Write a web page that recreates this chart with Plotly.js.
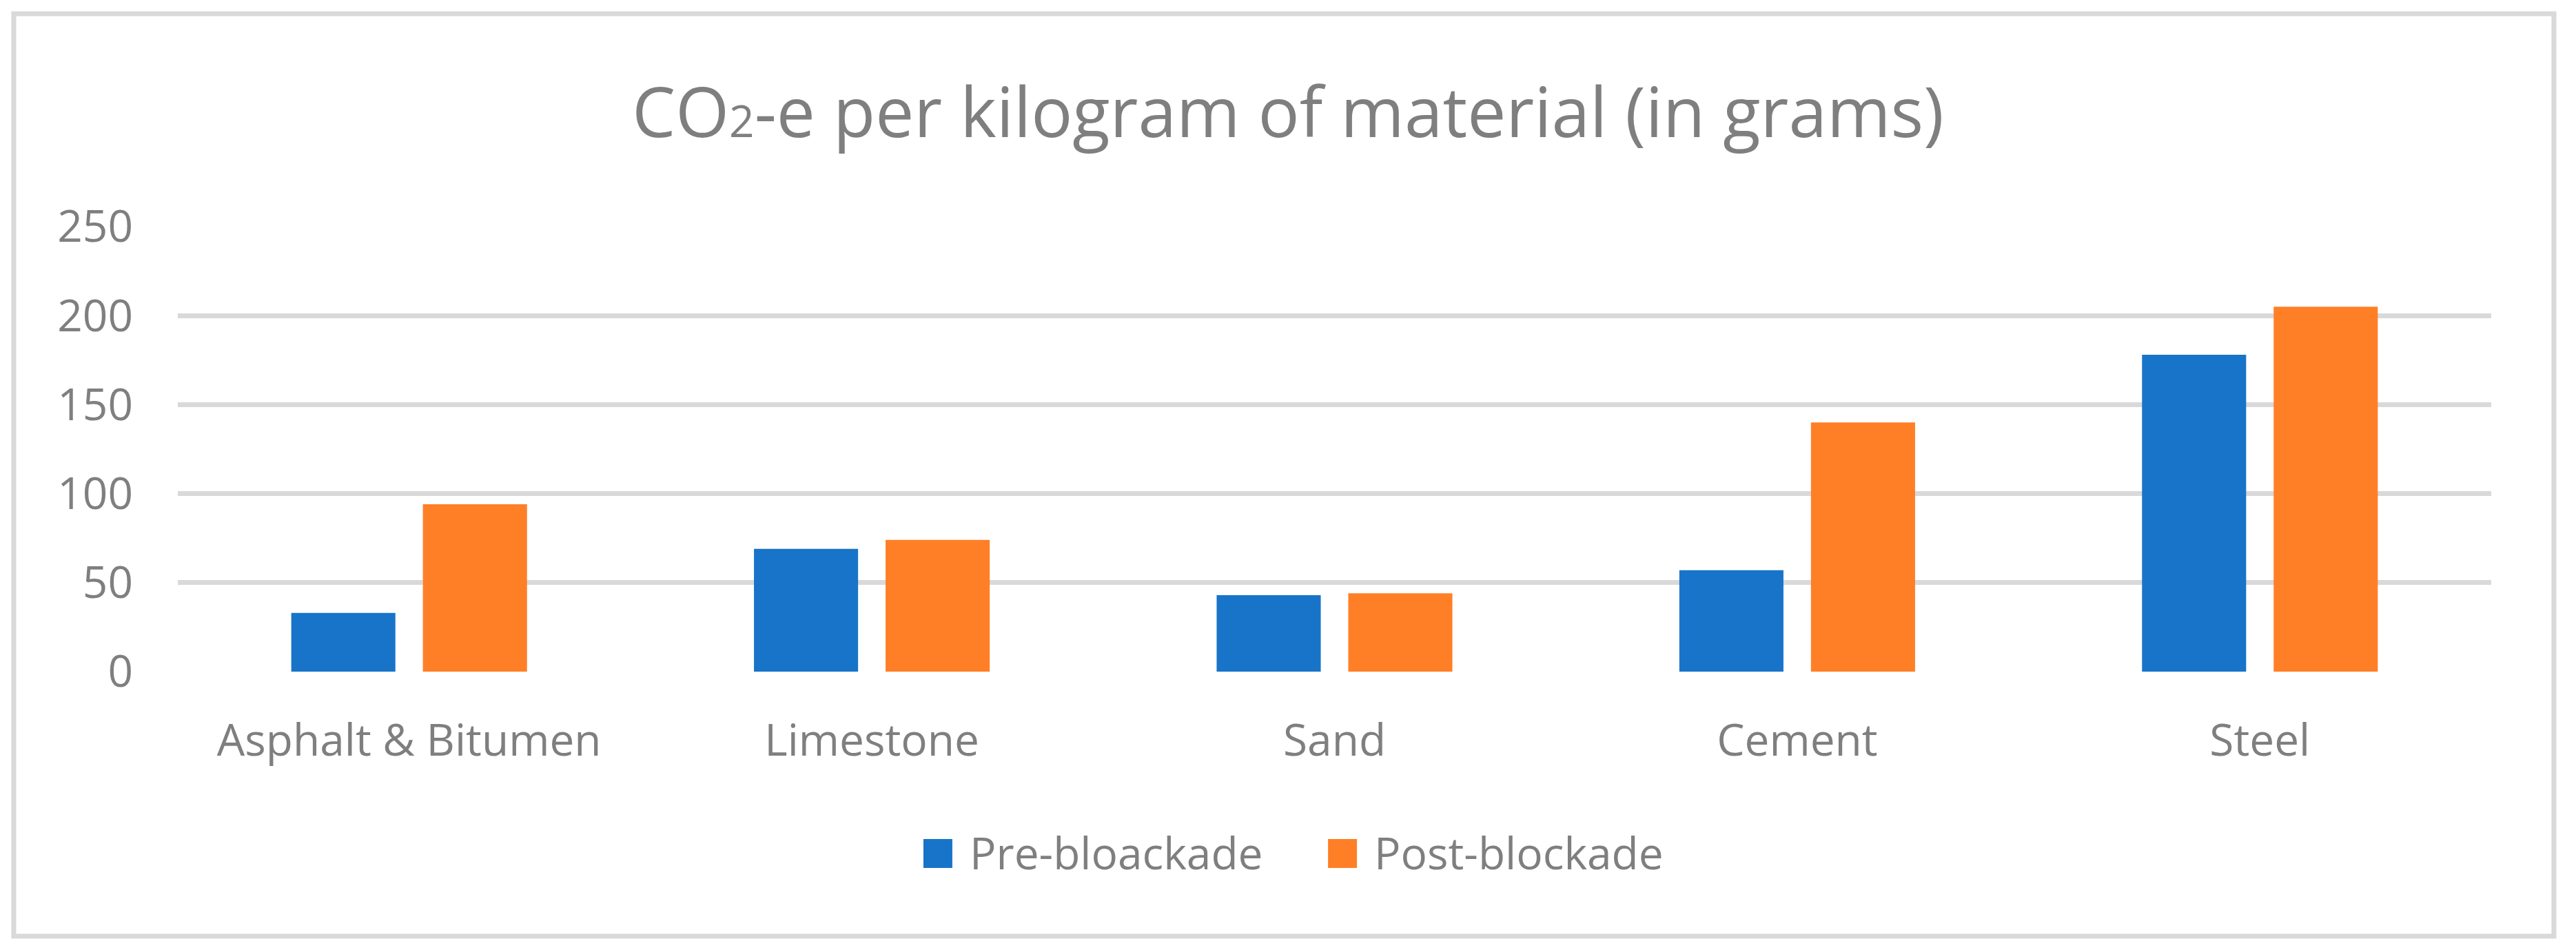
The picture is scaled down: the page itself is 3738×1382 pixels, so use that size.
<!DOCTYPE html>
<html>
<head>
<meta charset="utf-8">
<script src="https://cdn.plot.ly/plotly-3.0.1.min.js"></script>
<style>
  html, body { margin: 0; padding: 0; background: #fff; }
  #chart { width: 3738px; height: 1382px; }
</style>
</head>
<body>
<div id="chart"></div>
<script>
// values (grams CO2-e per kg)
var materials = ['Asphalt & Bitumen', 'Limestone', 'Sand', 'Cement', 'Steel']
var preBlockade = [33, 69, 43, 57, 178]
var postBlockade = [94, 74, 44, 140, 205]
var seriesNames = ['Pre-bloackade', 'Post-blockade']
var seriesColors = ['#1874c8', '#ff7f27']
var yTicks = [0, 50, 100, 150, 200, 250]

var grey = '#7f7f7f'
var font = '"Open Sans", "Noto Sans", sans-serif'

var traces = [preBlockade, postBlockade].map(function (vals, i) {
  return {
    type: 'bar',
    name: seriesNames[i],
    x: materials,
    y: vals,
    marker: { color: seriesColors[i] },
    showlegend: false,
    hoverinfo: 'x+y+name'
  }
})

// hand-made legend: Excel draws big square swatches, plotly's are tiny
var legendShapes = []
var legendNotes = []
var swatchX = [0.3223, 0.4972]
seriesNames.forEach(function (name, i) {
  legendShapes.push({
    type: 'rect', xref: 'paper', yref: 'paper',
    x0: swatchX[i], x1: swatchX[i] + 0.0125,
    y0: -0.3762, y1: -0.4412,
    fillcolor: seriesColors[i], line: { width: 0 }
  })
  legendNotes.push({
    xref: 'paper', yref: 'paper',
    x: swatchX[i] + 0.0194, y: -0.407,
    xanchor: 'left', yanchor: 'middle',
    showarrow: false,
    text: name,
    font: { family: font, size: 64, color: grey }
  })
})

var layout = {
  width: 3738,
  height: 1382,
  margin: { l: 258, r: 123, t: 329, b: 407 },
  paper_bgcolor: '#fff',
  plot_bgcolor: '#fff',
  font: { family: font, color: grey, size: 64 },
  title: {
    text: 'CO<span style="font-size:64px">2</span>-e per kilogram of material (in grams)',
    font: { family: font, size: 100, color: grey },
    x: 0.5, xref: 'container', xanchor: 'center',
    y: 0.881, yref: 'container', yanchor: 'middle'
  },
  barmode: 'group',
  bargap: 0.431,
  bargroupgap: 0.209,
  xaxis: {
    type: 'category',
    showgrid: false,
    zeroline: false,
    showline: false,
    ticks: '',
    ticklabelstandoff: 57,
    tickfont: { family: font, size: 64, color: grey },
    fixedrange: true
  },
  yaxis: {
    range: [0, 250],
    tickvals: yTicks,
    ticktext: yTicks.map(String),
    showgrid: true,
    gridcolor: '#d9d9d9',
    gridwidth: 7,
    zeroline: false,
    showline: false,
    ticks: '',
    ticklabelstandoff: 64,
    tickfont: { family: font, size: 64, color: grey },
    fixedrange: true
  },
  showlegend: false,
  shapes: [{
    // chart area border
    type: 'rect', xref: 'paper', yref: 'paper',
    x0: -0.0709, x1: 1.0271, y0: -0.5944, y1: 1.4783,
    line: { color: '#d9d9d9', width: 7 },
    fillcolor: 'rgba(0,0,0,0)',
    layer: 'below'
  }].concat(legendShapes),
  annotations: legendNotes
}

Plotly.newPlot('chart', traces, layout, { displayModeBar: false, staticPlot: true })
</script>
</body>
</html>
